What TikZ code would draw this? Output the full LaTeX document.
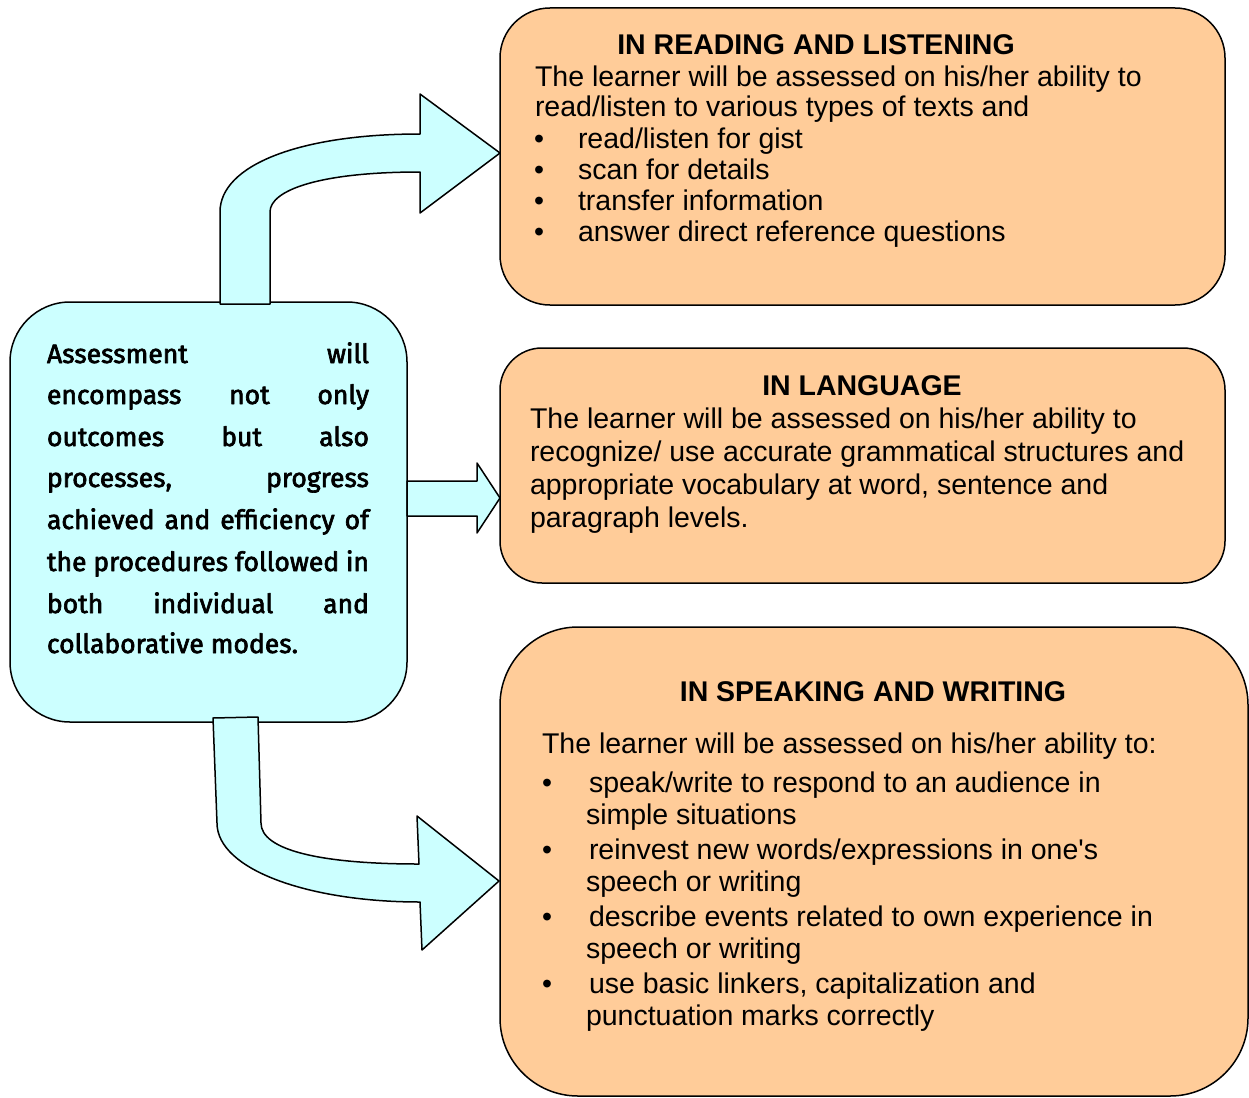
\documentclass[tikz,border=0pt]{standalone}
\usepackage{fontspec}
\setmainfont{Liberation Sans}
\newfontfamily\apfont{Liberation Sans}
\newfontfamily\leftfont[FakeBold=2.5]{Fira Sans}
\definecolor{cyanfill}{HTML}{CCFFFF}
\definecolor{orangefill}{HTML}{FFCC99}
\begin{document}
\begin{tikzpicture}[x=1pt,y=-1pt,line join=round,
  box/.style={draw=black,line width=1.5pt,rounded corners=#1,anchor=north west,inner sep=0pt,outer sep=0pt},
  txt/.style={anchor=base west,inner sep=0pt,outer sep=0pt,font=\fontsize{28.5}{31}\selectfont},
  ttl/.style={anchor=base,inner sep=0pt,outer sep=0pt,font=\fontsize{28.5}{31}\selectfont\bfseries},
  ltxt/.style={anchor=base west,inner sep=0pt,outer sep=0pt,font=\leftfont\fontsize{26.5}{30}\selectfont},
  blockarrow/.style={draw=black,fill=cyanfill,line width=1.5pt}]
\useasboundingbox (0,0) rectangle (1249,1097);

% boxes
\node[box=60pt,fill=cyanfill,minimum width=397pt,minimum height=420pt] (main) at (10,302) {};
\node[box=50pt,fill=orangefill,minimum width=725pt,minimum height=297pt] (b1) at (500,8) {};
\node[box=42pt,fill=orangefill,minimum width=725pt,minimum height=235pt] (b2) at (500,348) {};
\node[box=78pt,fill=orangefill,minimum width=748pt,minimum height=469pt] (b3) at (500,627) {};

% arrows
\draw[blockarrow] (220,304) -- (220,212) .. controls (220,165) and (300,134) .. (420,134) -- (420,94) -- (500,153) -- (420,213) -- (420,172) .. controls (320,172) and (270,190) .. (270,212) -- (270,304) -- cycle;
\draw[blockarrow] (407,481) -- (477,481) -- (477,463) -- (500,498) -- (477,533) -- (477,516) -- (407,516) -- cycle;
\draw[blockarrow] (213,718) -- (217,823) .. controls (217,870) and (310,902) .. (420,902) -- (422,950) -- (499,881) -- (417,816) -- (419,864) .. controls (320,864) and (261,850) .. (261,823) -- (258,717) -- cycle;

% left text
\node[ltxt] (l1) at (47,363) {\hbox to 322pt{Assessment\hfill will}};
\node[ltxt] (l2) at (47,404) {\hbox to 322pt{encompass\hfill not\hfill only}};
\node[ltxt] (l3) at (47,446) {\hbox to 322pt{outcomes\hfill but\hfill also}};
\node[ltxt] (l4) at (47,487) {\hbox to 322pt{processes,\hfill progress}};
\node[ltxt] (l5) at (47,529) {\hbox to 322pt{achieved\hfill and\hfill efficiency\hfill of}};
\node[ltxt] (l6) at (47,571) {\hbox to 322pt{the\hfill procedures\hfill followed\hfill in}};
\node[ltxt] (l7) at (47,613) {\hbox to 322pt{both\hfill individual\hfill and}};
\node[ltxt] (l8) at (47,653) {collaborative modes.};

% box 1
\node[ttl] (t1) at (816,55) {IN READING AND LISTENING};
\node[txt] (a1) at (535,87) {The learner will be assessed on his/her ability to};
\node[txt] (a2) at (535,117) {read/listen to various types of texts and};
\node[txt] (a3b) at (534,148) {•};
\node[txt] (a3) at (578,148) {read/listen for gist};
\node[txt] (a4b) at (534,179) {•};
\node[txt] (a4) at (578,179) {scan for details};
\node[txt] (a5b) at (534,210) {•};
\node[txt] (a5) at (578,210) {transfer information};
\node[txt] (a6b) at (534,241) {•};
\node[txt] (a6) at (578,241) {answer direct reference questions};

% box 2
\node[ttl] (t2) at (862,395) {IN LANGUAGE};
\node[txt] (c1) at (530,428) {The learner will be assessed on his/her ability to};
\node[txt] (c2) at (530,461) {recognize/ use accurate grammatical structures and};
\node[txt] (c3) at (530,494) {appropriate vocabulary at word, sentence and};
\node[txt] (c4) at (530,527) {paragraph levels.};

% box 3
\node[ttl] (t3) at (873,701) {IN SPEAKING AND WRITING};
\node[txt] (d0) at (542,753) {The learner will be assessed on his/her ability to:};
\node[txt] (d1b) at (542,792) {•};
\node[txt] (d1) at (589,792) {speak/write to respond to an audience in};
\node[txt] (d1c) at (586,824) {simple situations};
\node[txt] (d2b) at (542,859) {•};
\node[txt] (d2) at (589,859) {reinvest new words/expressions in one{\apfont '}s};
\node[txt] (d2c) at (586,891) {speech or writing};
\node[txt] (d3b) at (542,926) {•};
\node[txt] (d3) at (589,926) {describe events related to own experience in};
\node[txt] (d3c) at (586,958) {speech or writing};
\node[txt] (d4b) at (542,993) {•};
\node[txt] (d4) at (589,993) {use basic linkers, capitalization and};
\node[txt] (d4c) at (586,1025) {punctuation marks correctly};
\end{tikzpicture}
\end{document}
